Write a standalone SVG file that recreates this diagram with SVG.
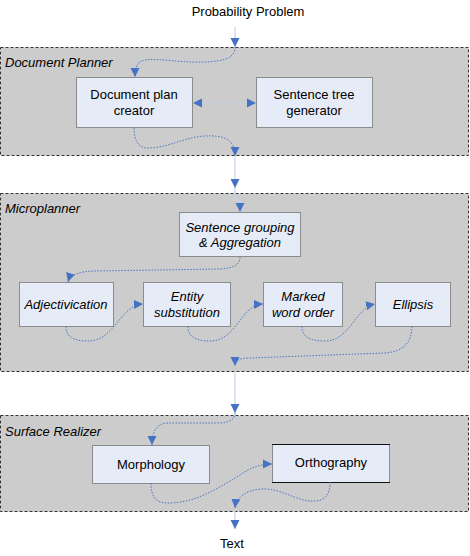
<svg xmlns="http://www.w3.org/2000/svg" width="470" height="556" viewBox="0 0 470 556">
<defs>
<style>
.cont{fill:#cccccc;stroke:#333;stroke-width:1;stroke-dasharray:3,2}
.node{fill:#e6ecf7;stroke:#8c8c8c;stroke-width:1}
.edge{stroke:#111;stroke-width:1.2;fill:none}
text{font-family:"Liberation Sans",Arial,sans-serif;font-size:13px;fill:#000}
.c{text-anchor:middle}
.i{font-style:italic}
.flow{fill:none;stroke:#4a76c6;stroke-width:1;stroke-dasharray:1.5,1.5}
.main{fill:none;stroke:#c6d4ee;stroke-width:1.2}
.bi{fill:none;stroke:#c4ccdc;stroke-width:1.2}
</style>
<marker id="ah" markerUnits="userSpaceOnUse" markerWidth="10" markerHeight="10" refX="9" refY="5" orient="auto-start-reverse">
<path d="M0,0.5 L9,5 L0,9.5 z" fill="#4472c4"/>
</marker>
</defs>
<rect width="470" height="556" fill="#fff"/>

<g id="documentPlanner">
<rect class="cont" x="0.5" y="47.5" width="468" height="108"/>
<text class="i" x="5" y="67">Document Planner</text>
</g>
<g id="microplanner">
<rect class="cont" x="0.5" y="193.5" width="468" height="178"/>
<text class="i" x="5" y="213">Microplanner</text>
</g>
<g id="surfaceRealizer">
<rect class="cont" x="0.5" y="415.5" width="468" height="96"/>
<text class="i" x="5" y="436">Surface Realizer</text>
</g>

<g id="input"><text class="c" x="248" y="16">Probability Problem</text></g>
<g id="output"><text class="c" x="232" y="548">Text</text></g>

<g id="docPlanCreator">
<rect class="node" x="76.5" y="77.5" width="116" height="50"/>
<text class="c" x="134" y="99">Document plan</text>
<text class="c" x="134" y="115">creator</text>
</g>
<g id="sentenceTreeGenerator">
<rect class="node" x="256.5" y="77.5" width="116" height="50"/>
<text class="c" x="314" y="99">Sentence tree</text>
<text class="c" x="314" y="115">generator</text>
</g>
<g id="sentenceGrouping">
<rect class="node" x="179.5" y="212.5" width="121" height="44"/>
<text class="c i" x="240" y="232">Sentence grouping</text>
<text class="c i" x="240" y="247">&amp; Aggregation</text>
</g>
<g id="adjectivication">
<rect class="node" x="19.5" y="282.5" width="94" height="44"/>
<text class="c i" x="66" y="309">Adjectivication</text>
</g>
<g id="entitySubstitution">
<rect class="node" x="143.5" y="282.5" width="87" height="44"/>
<text class="c i" x="187" y="301">Entity</text>
<text class="c i" x="187" y="317">substitution</text>
</g>
<g id="markedWordOrder">
<rect class="node" x="263.5" y="282.5" width="79" height="44"/>
<text class="c i" x="303" y="301">Marked</text>
<text class="c i" x="303" y="317">word order</text>
</g>
<g id="ellipsis">
<rect class="node" x="375.5" y="282.5" width="75" height="44"/>
<text class="c i" x="413" y="309">Ellipsis</text>
</g>
<g id="morphology">
<rect class="node" x="92.5" y="445.5" width="117" height="38"/>
<text class="c" x="151" y="469">Morphology</text>
</g>
<g id="orthography">
<rect class="node" x="272.5" y="444.5" width="117" height="38"/>
<path class="edge" d="M272,444.5 H390 M272,482.5 H390"/>
<text class="c" x="331" y="467">Orthography</text>
</g>

<g id="connectors">
<path class="main" d="M235,27 V47" marker-end="url(#ah)"/>
<path class="flow" d="M235,47 C235,58 225,61 205,62 C180,63 160,58 145,60 C138,61 135,66 135,77" marker-end="url(#ah)"/>
<path class="bi" d="M193,103 H256" marker-start="url(#ah)" marker-end="url(#ah)"/>
<path class="flow" d="M134,128 C134,140 138,149 150,148 C170,147 185,137 205,136 C225,135 235,140 235,156" marker-end="url(#ah)"/>
<path class="main" d="M235,156 V188" marker-end="url(#ah)"/>
<path class="main" d="M235,188 V200 H240 V212" marker-end="url(#ah)"/>
<path class="flow" d="M240,257 C240,266 232,268 220,269 L95,271 C80,271 70,275 68,282" marker-end="url(#ah)"/>
<path class="flow" d="M66,326 C66,336 72,341 88,341 C115,341 120,305 143,304" marker-end="url(#ah)"/>
<path class="flow" d="M188,326 C188,336 194,341 210,341 C237,341 240,305 263,304" marker-end="url(#ah)"/>
<path class="flow" d="M302,326 C302,336 308,341 325,341 C350,341 355,308 375,304" marker-end="url(#ah)"/>
<path class="flow" d="M412,326 C412,345 400,352 385,353 L250,358 C240,358 235,360 235,366" marker-end="url(#ah)"/>
<path class="main" d="M235,371 V413" marker-end="url(#ah)"/>
<path class="flow" d="M235,413 C235,420 228,423 218,423 L168,423 C158,423 152,430 152,445" marker-end="url(#ah)"/>
<path class="flow" d="M151,483 C151,496 155,503 168,503 C195,503 215,490 240,475 C250,468 260,464 272,464" marker-end="url(#ah)"/>
<path class="flow" d="M330,482 C330,495 325,502 310,501 C295,500 280,488 262,489 C245,490 236,498 235,508" marker-end="url(#ah)"/>
<path class="main" d="M235,511 V529" marker-end="url(#ah)"/>
</g>
</svg>
